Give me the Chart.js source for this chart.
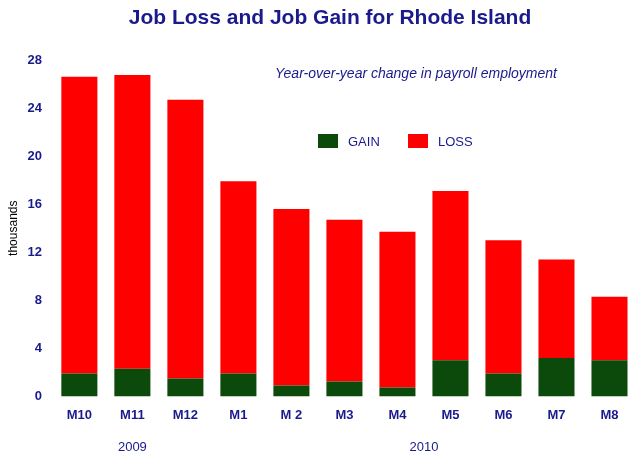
<!DOCTYPE html>
<html lang="en">
<head>
<meta charset="UTF-8">
<title>Job Loss and Job Gain for Rhode Island</title>
<script src="https://cdn.jsdelivr.net/npm/chart.js"></script>
<style>
  body { margin: 0; background: #fff; }
  .wrap { position: relative; width: 640px; height: 457px; }
</style>
</head>
<body>
<div class="wrap"><canvas id="c" width="640" height="457"></canvas></div>
<script>
const months = ['M10', 'M11', 'M12', 'M1', 'M 2', 'M3', 'M4', 'M5', 'M6', 'M7', 'M8'];
const gain = [1.9, 2.3, 1.5, 1.9, 0.9, 1.25, 0.75, 3.0, 1.9, 3.2, 3.0];
const loss = [24.7, 24.45, 23.2, 16.0, 14.7, 13.45, 12.95, 14.1, 11.1, 8.2, 5.3];
const yTicks = [0, 4, 8, 12, 16, 20, 24, 28];
const years = [{ label: '2009', at: 1 }, { label: '2010', at: 6.5 }];

const navy = '#1a1a8c';

// titles, legend and year labels
const extras = {
  id: 'extras',
  afterDraw(chart) {
    const ctx = chart.ctx, x = chart.scales.x;
    ctx.save();
    ctx.fillStyle = navy;
    ctx.textAlign = 'center';
    ctx.font = 'bold 21px "Liberation Sans", Arial, sans-serif';
    ctx.fillText('Job Loss and Job Gain for Rhode Island', 330, 24);
    ctx.font = 'italic 14px "Liberation Sans", Arial, sans-serif';
    ctx.fillText('Year-over-year change in payroll employment', 416, 78);
    ctx.font = '13px "Liberation Sans", Arial, sans-serif';
    years.forEach(y => ctx.fillText(y.label, x.getPixelForValue(y.at), 451));
    // legend
    ctx.textAlign = 'left';
    ctx.textBaseline = 'middle';
    ctx.fillStyle = '#0b4a0b';
    ctx.fillRect(318, 134, 20, 14);
    ctx.fillStyle = '#ff0000';
    ctx.fillRect(408, 134, 20, 14);
    ctx.fillStyle = navy;
    ctx.fillText('GAIN', 348, 142);
    ctx.fillText('LOSS', 438, 142);
    ctx.restore();
  }
};

const tickFont = { size: 13, weight: 'bold', family: '"Liberation Sans", Arial, sans-serif' };

new Chart(document.getElementById('c'), {
  type: 'bar',
  data: {
    labels: months,
    datasets: [
      { label: 'GAIN', data: gain, backgroundColor: '#0b4a0b' },
      { label: 'LOSS', data: loss, backgroundColor: '#ff0000' }
    ]
  },
  options: {
    responsive: false,
    animation: false,
    layout: { padding: { top: 60, right: 4, bottom: 31, left: 2 } },
    plugins: { legend: { display: false }, tooltip: { enabled: false } },
    datasets: { bar: { categoryPercentage: 0.68, barPercentage: 1 } },
    scales: {
      x: {
        stacked: true,
        grid: { display: false },
        border: { display: false },
        ticks: { color: navy, font: tickFont }
      },
      y: {
        stacked: true,
        min: 0, max: 28,
        afterBuildTicks: s => { s.ticks = yTicks.map(v => ({ value: v })); },
        grid: { display: false },
        border: { display: false },
        title: { display: true, text: 'thousands', color: '#000', font: { size: 12 } },
        ticks: { color: navy, font: tickFont }
      }
    }
  },
  plugins: [extras]
});
</script>
</body>
</html>
